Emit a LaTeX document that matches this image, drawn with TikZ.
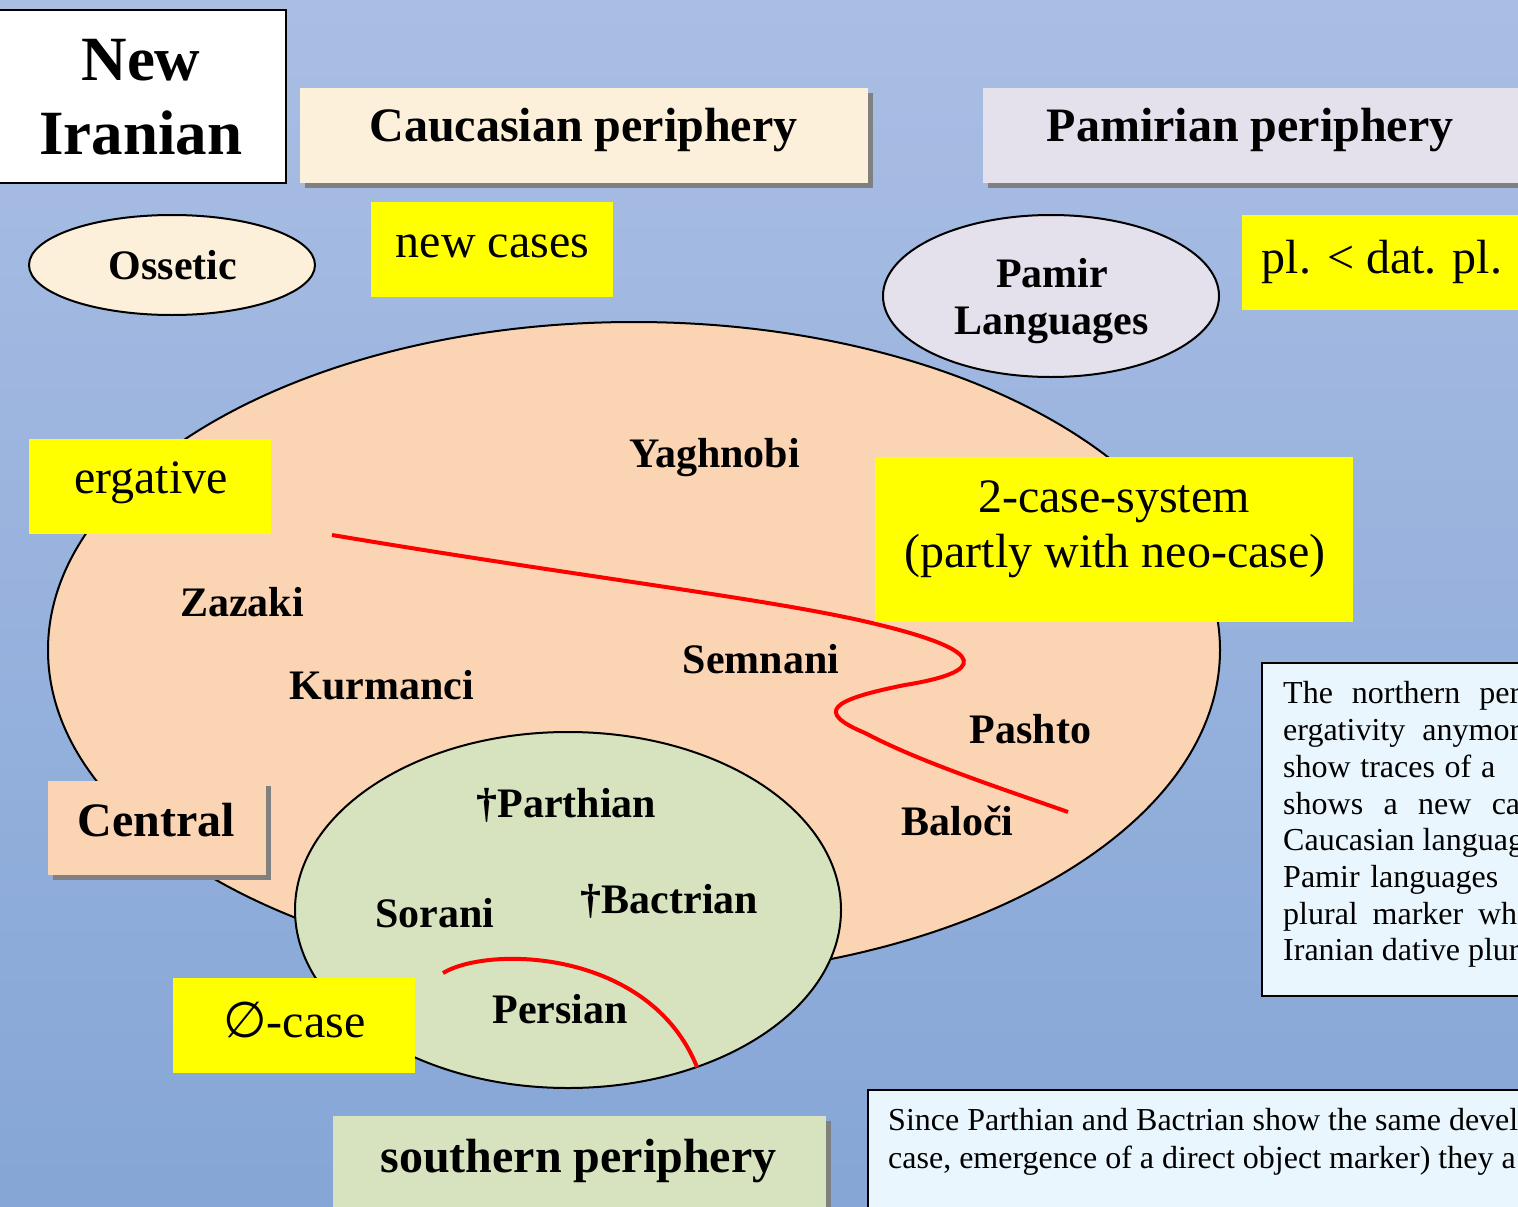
\documentclass[tikz,border=0pt]{standalone}
\usepackage{fontspec}
\setmainfont{Liberation Serif}
\newfontfamily\symbolfont{DejaVu Sans}
\definecolor{bgtop}{RGB}{170,190,228}
\definecolor{bgbot}{RGB}{133,166,214}
\definecolor{cream}{RGB}{252,240,218}
\definecolor{lav}{RGB}{228,224,236}
\definecolor{peach}{RGB}{251,212,180}
\definecolor{sgreen}{RGB}{215,227,190}
\definecolor{tbox}{RGB}{234,246,254}
\definecolor{shadowgray}{RGB}{128,128,128}
\definecolor{yel}{RGB}{255,255,0}
\tikzset{
  lab/.style={anchor=base, inner sep=0pt, font=\fontsize{42}{50}\selectfont\bfseries},
  biglab/.style={anchor=base, inner sep=0pt, font=\fontsize{48}{58}\selectfont\bfseries},
  hugelab/.style={anchor=base, inner sep=0pt, font=\fontsize{63}{73}\selectfont\bfseries},
  yellab/.style={anchor=base, inner sep=0pt, font=\fontsize{48}{58}\selectfont},
  smalltext/.style={anchor=base west, inner sep=0pt, font=\fontsize{32}{37}\selectfont},
  shadowfill/.style={fill=shadowgray},
  yellowfill/.style={fill=yel},
  outline/.style={draw=black, line width=2},
  redline/.style={draw=red, line width=4}
}
\begin{document}
\begin{tikzpicture}[x=1pt,y=-1pt]
\useasboundingbox (0,0) rectangle (1518,1207);
\clip (0,0) rectangle (1518,1207);
\shade[top color=bgtop, bottom color=bgbot] (0,0) rectangle (1518,1207);

% New Iranian
\path[outline, fill=white] (-5,10) rectangle (286,183);
\node[hugelab] (new) at (141,81) {New};
\node[hugelab] (iranian) at (141,154) {Iranian};

% Caucasian periphery
\path[shadowfill] (305,93) rectangle (873,188);
\path[fill=cream] (300,88) rectangle (868,183);
\node[biglab] (caucasian) at (583.5,141) {Caucasian periphery};

% Pamirian periphery
\path[shadowfill] (988,93) rectangle (1530,188);
\path[fill=lav] (983,88) rectangle (1530,183);
\node[biglab] (pamirian) at (1250,141) {Pamirian periphery};

% Ossetic
\path[outline, fill=cream] (172,265) ellipse [x radius=143, y radius=50];
\node[lab] (ossetic) at (173,279) {Ossetic};

% new cases
\path[yellowfill] (371,202) rectangle (613,297);
\node[yellab] (newcases) at (492.5,257) {new cases};

% Pamir languages
\path[outline, fill=lav] (1051,296) ellipse [x radius=168, y radius=81];
\node[lab] (pamir) at (1052,287) {Pamir};
\node[lab] (languages) at (1051.5,334) {Languages};

% pl < dat pl
\path[yellowfill] (1242,215) rectangle (1530,310);
\node[yellab] (pl) at (1382,273) {pl. < dat. pl.};

% central ellipse
\path[outline, fill=peach] (634,650) ellipse [x radius=586, y radius=328];

% red boundary
\path[redline] (332,535) .. controls (600,580) and (780,600) .. (880,625)
  .. controls (990,652) and (985,672) .. (905,685)
  .. controls (830,700) and (815,712) .. (865,733)
  .. controls (920,762) and (1000,788) .. (1068,812);

% ergative
\path[yellowfill] (29,439) rectangle (271,534);
\node[yellab] (ergative) at (151,493) {ergative};

% 2-case-system
\path[yellowfill] (875,457) rectangle (1353,622);
\node[yellab] (twocase) at (1114,512) {2-case-system};
\node[yellab] (partly) at (1115,567) {(partly with neo-case)};

\node[lab] (yaghnobi) at (714.5,467) {Yaghnobi};
\node[lab] (zazaki) at (242,616) {Zazaki};
\node[lab] (kurmanci) at (381.5,699) {Kurmanci};
\node[lab] (semnani) at (761,673) {Semnani};
\node[lab] (pashto) at (1030.5,743) {Pashto};
\node[lab] (baloci) at (957.5,835) {Baloči};

% Central
\path[shadowfill] (53,786) rectangle (271,880);
\path[fill=peach] (48,781) rectangle (266,875);
\node[biglab] (central) at (156.5,836) {Central};

% southern ellipse
\path[outline, fill=sgreen] (568,910) ellipse [x radius=273, y radius=178];
\path[redline] (443,973) .. controls (490,945) and (650,950) .. (697,1067);
\node[lab] (parthian) at (566.5,817) {†Parthian};
\node[lab] (sorani) at (435,927) {Sorani};
\node[lab] (bactrian) at (669.5,913) {†Bactrian};
\node[lab] (persian) at (560,1023) {Persian};

% zero case
\path[yellowfill] (173,978) rectangle (415,1073);
\node[yellab] (zerocase) at (294.5,1037) {{\symbolfont\fontsize{50}{58}\selectfont ∅}-case};

% southern periphery
\path[shadowfill] (338,1121) rectangle (831,1220);
\path[fill=sgreen] (333,1116) rectangle (826,1220);
\node[biglab] (southern) at (578.5,1172) {southern periphery};

% right text box
\path[outline, fill=tbox] (1262,663) rectangle (1540,996);
\node[smalltext] (r1) at (1283,703) {\makebox[237pt][s]{The northern per}};
\node[smalltext] (r2) at (1283,740) {\makebox[237pt][s]{ergativity anymor}};
\node[smalltext] (r3) at (1283,777) {\makebox[212pt][s]{show traces of a}};
\node[smalltext] (r4) at (1283,814) {\makebox[237pt][s]{shows a new ca}};
\node[smalltext] (r5) at (1283,850) {Caucasian languag};
\node[smalltext] (r6) at (1283,887) {\makebox[215pt][s]{Pamir languages}};
\node[smalltext] (r7) at (1283,924) {\makebox[234pt][s]{plural marker wh}};
\node[smalltext] (r8) at (1283,960) {Iranian dative plur};

% bottom text box
\path[outline, fill=tbox] (868,1090) rectangle (1540,1230);
\node[smalltext] (b1) at (888,1130) {Since Parthian and Bactrian show the same devel};
\node[smalltext] (b2) at (888,1168) {case, emergence of a direct object marker) they a};
\end{tikzpicture}
\end{document}
